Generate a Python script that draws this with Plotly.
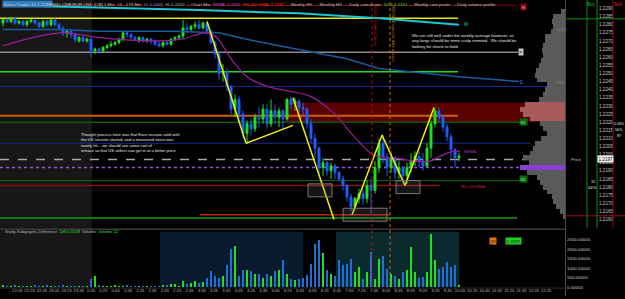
import plotly.graph_objects as go

# ---------------- DATA ----------------
bar_idx = list(range(115))

opens = [1.2281, 1.2283, 1.2282, 1.2284, 1.2281, 1.2282, 1.2280, 1.2282, 1.2283, 1.2281,
         1.2279, 1.2282, 1.2280, 1.2283, 1.2280, 1.2278, 1.2275, 1.2276, 1.2274, 1.2270,
         1.2272, 1.2270, 1.2271, 1.2264, 1.2265, 1.2264, 1.2266, 1.2267, 1.2268, 1.2269,
         1.2271, 1.2275, 1.2274, 1.2272, 1.2270, 1.2272, 1.2270, 1.2271, 1.2270, 1.2268,
         1.2267, 1.2269, 1.2268, 1.2271, 1.2272, 1.2273, 1.2278, 1.2277, 1.2279, 1.2280,
         1.2278, 1.2281, 1.2276, 1.2269, 1.2262, 1.2250, 1.2251, 1.2242, 1.2228, 1.2234,
         1.2225, 1.2213, 1.2219, 1.2216, 1.2223, 1.2222, 1.2228, 1.2219, 1.2227, 1.2223,
         1.2227, 1.2222, 1.2234, 1.2231, 1.2233, 1.2229, 1.2228, 1.2219, 1.2210, 1.2204,
         1.2192, 1.2195, 1.2190, 1.2193, 1.2189, 1.2185, 1.2181, 1.2174, 1.2168, 1.2173,
         1.2176, 1.2173, 1.2181, 1.2178, 1.2192, 1.2207, 1.2198, 1.2192, 1.2198, 1.2189,
         1.2192, 1.2187, 1.2192, 1.2196, 1.2199, 1.2196, 1.2193, 1.2204, 1.2219, 1.2227,
         1.2223, 1.2217, 1.2211, 1.2203, 1.2198]
closes = [1.2283, 1.2282, 1.2284, 1.2281, 1.2282, 1.2280, 1.2282, 1.2283, 1.2281, 1.2279,
          1.2282, 1.2280, 1.2283, 1.2280, 1.2278, 1.2275, 1.2276, 1.2274, 1.2271, 1.2272,
          1.2270, 1.2271, 1.2264, 1.2265, 1.2264, 1.2266, 1.2267, 1.2268, 1.2269, 1.2271,
          1.2275, 1.2274, 1.2272, 1.2271, 1.2272, 1.2270, 1.2271, 1.2270, 1.2268, 1.2267,
          1.2269, 1.2268, 1.2271, 1.2272, 1.2273, 1.2278, 1.2277, 1.2279, 1.2280, 1.2278,
          1.2281, 1.2276, 1.2269, 1.2262, 1.2250, 1.2251, 1.2242, 1.2228, 1.2234, 1.2225,
          1.2213, 1.2219, 1.2216, 1.2223, 1.2222, 1.2228, 1.2219, 1.2227, 1.2223, 1.2227,
          1.2222, 1.2234, 1.2231, 1.2233, 1.2229, 1.2228, 1.2219, 1.2210, 1.2204, 1.2192,
          1.2195, 1.2190, 1.2193, 1.2189, 1.2185, 1.2181, 1.2174, 1.2168, 1.2173, 1.2176,
          1.2173, 1.2181, 1.2178, 1.2192, 1.2207, 1.2198, 1.2192, 1.2198, 1.2189, 1.2192,
          1.2187, 1.2192, 1.2196, 1.2199, 1.2196, 1.2193, 1.2204, 1.2219, 1.2227, 1.2223,
          1.2217, 1.2211, 1.2203, 1.2198, 1.2199]
highs = [1.2284, 1.2284, 1.2285, 1.2285, 1.2283, 1.2283, 1.2283, 1.2284, 1.2284, 1.2282,
         1.2283, 1.2283, 1.2284, 1.2284, 1.2281, 1.2279, 1.2277, 1.2277, 1.2275, 1.2273,
         1.2273, 1.2272, 1.2272, 1.2266, 1.2266, 1.2267, 1.2268, 1.2270, 1.2270, 1.2272,
         1.2276, 1.2276, 1.2275, 1.2273, 1.2273, 1.2273, 1.2272, 1.2272, 1.2271, 1.2270,
         1.2270, 1.2270, 1.2272, 1.2273, 1.2274, 1.2283, 1.2281, 1.2280, 1.2282, 1.2283,
         1.2282, 1.2282, 1.2277, 1.2270, 1.2264, 1.2256, 1.2253, 1.2243, 1.2237, 1.2236,
         1.2227, 1.2221, 1.2222, 1.2225, 1.2229, 1.2231, 1.2231, 1.2234, 1.2231, 1.2229,
         1.2228, 1.2235, 1.2236, 1.2235, 1.2234, 1.2232, 1.2229, 1.2222, 1.2213, 1.2205,
         1.2198, 1.2196, 1.2195, 1.2194, 1.2190, 1.2187, 1.2182, 1.2176, 1.2174, 1.2179,
         1.2179, 1.2184, 1.2185, 1.2196, 1.2210, 1.2212, 1.2201, 1.2202, 1.2199, 1.2196,
         1.2193, 1.2195, 1.2201, 1.2202, 1.2202, 1.2201, 1.2207, 1.2221, 1.2229, 1.2229,
         1.2225, 1.2219, 1.2213, 1.2204, 1.2201]
lows = [1.2279, 1.2281, 1.2281, 1.2280, 1.2280, 1.2279, 1.2279, 1.2281, 1.2280, 1.2278,
        1.2278, 1.2279, 1.2279, 1.2279, 1.2277, 1.2273, 1.2272, 1.2272, 1.2269, 1.2269,
        1.2269, 1.2269, 1.2260, 1.2262, 1.2262, 1.2263, 1.2265, 1.2266, 1.2267, 1.2268,
        1.2270, 1.2272, 1.2271, 1.2270, 1.2269, 1.2269, 1.2269, 1.2268, 1.2267, 1.2266,
        1.2266, 1.2267, 1.2267, 1.2270, 1.2271, 1.2271, 1.2275, 1.2276, 1.2277, 1.2277,
        1.2277, 1.2274, 1.2268, 1.2259, 1.2246, 1.2245, 1.2239, 1.2225, 1.2223, 1.2220,
        1.2210, 1.2207, 1.2212, 1.2214, 1.2217, 1.2219, 1.2216, 1.2217, 1.2219, 1.2217,
        1.2216, 1.2221, 1.2228, 1.2227, 1.2226, 1.2224, 1.2216, 1.2207, 1.2198, 1.2187,
        1.2187, 1.2187, 1.2185, 1.2185, 1.2184, 1.2178, 1.2171, 1.2165, 1.2166, 1.2170,
        1.2169, 1.2170, 1.2164, 1.2176, 1.2189, 1.2195, 1.2187, 1.2189, 1.2185, 1.2185,
        1.2184, 1.2182, 1.2189, 1.2193, 1.2192, 1.2190, 1.2192, 1.2198, 1.2217, 1.2220,
        1.2214, 1.2208, 1.2198, 1.2192, 1.2196]
volumes = [120, 80, 60, 150, 70, 100, 60, 90, 130, 60, 80, 110, 70, 60, 90, 120, 60, 80, 100, 60,
           70, 90, 470, 620, 150, 100, 80, 60, 120, 90, 70, 110, 80, 60, 100, 70, 90, 60, 80, 100,
           120, 150, 200, 160, 100, 320, 200, 260, 360, 250, 300, 500, 880, 620, 520, 600, 1200,
           2030, 2180, 620, 900, 940, 880, 700, 730, 520, 730, 600, 880, 940, 1460, 700, 420, 400,
           450, 520, 680, 1250, 2290, 2500, 1820, 940, 700, 620, 1460, 1200, 1250, 1500, 830, 1090,
           470, 830, 1870, 470, 1500, 1660, 990, 730, 620, 470, 830, 940, 2130, 830, 520, 570, 830,
           2800, 1460, 990, 1090, 1350, 1090, 1200, 150]

# moving averages / trend lines (bar index, price)
cyan_idx = [0, 49, 74, 94, 114]
cyan_px = [1.2292, 1.2289, 1.2287, 1.2284, 1.2280]
vwap_idx = [0, 14, 24, 42, 54, 61, 69, 77.5, 86, 94, 114, 129]
vwap_px = [1.2277, 1.2277, 1.2276, 1.2276, 1.2275, 1.2271, 1.2267, 1.2263, 1.2259, 1.2253, 1.2248, 1.2245]
ema_idx = [0, 14.25, 24.25, 36.75, 44.25, 51, 53.5, 56.75, 61, 66, 71.75, 76.75, 82.5, 87.5,
           92.5, 97.5, 103.5, 106.75, 109.25, 112.5, 114.25]
ema_px = [1.2267, 1.2275, 1.2272, 1.2270, 1.2271, 1.2275, 1.2272, 1.2260, 1.2248, 1.2242, 1.2239,
          1.2236, 1.2226, 1.2212, 1.2200, 1.2198, 1.2196, 1.2196, 1.2199, 1.2202, 1.2202]

# hand-drawn yellow zig-zags
zig_idx = [51, 60.75, None, 60.75, 72.5, None, 72.5, 82.75, None, 87.25, 94.75, 100.5, 107.75]
zig_px = [1.2282, 1.2207, None, 1.2207, 1.2218, None, 1.2235, 1.2160, None, 1.2163, 1.2212, 1.2181, 1.2229]

# horizontal levels
level_px = [1.2292, 1.2284, 1.2263, 1.2251, 1.2242, 1.2224, 1.2220, 1.2207, 1.2197, 1.2192,
            1.2184, 1.2181, 1.2163, 1.2161]
band_px = [1.2232, 1.2220]
boxes_idx = [(76.25, 82.25), (85.0, 96.0), (98.25, 104.25)]
boxes_px = [(1.2182, 1.2174), (1.2167, 1.2159), (1.2184, 1.2176)]

# volume profile
profile_px = [1.2288, 1.2285, 1.2282, 1.2279, 1.2276, 1.2273, 1.2270, 1.2267, 1.2264, 1.2261,
              1.2258, 1.2255, 1.2252, 1.2249, 1.2246, 1.2243, 1.2240, 1.2237, 1.2234, 1.2231,
              1.2228, 1.2225, 1.2222, 1.2219, 1.2216, 1.2213, 1.2210, 1.2207, 1.2204, 1.2201,
              1.2198, 1.2195, 1.2192, 1.2189, 1.2186, 1.2183, 1.2180, 1.2177, 1.2174, 1.2171,
              1.2168, 1.2165, 1.2162]
profile_vol = [4, 12, 13, 12, 14, 20, 20, 22, 23, 22, 24, 26, 29, 30, 28, 18, 20, 22, 26, 40,
               45, 42, 35, 25, 22, 18, 24, 30, 32, 35, 42, 36, 45, 38, 28, 25, 22, 18, 13, 12,
               9, 5, 2]

price_ticks = [1.2290, 1.2285, 1.2280, 1.2275, 1.2270, 1.2265, 1.2260, 1.2255, 1.2250, 1.2245,
               1.2240, 1.2235, 1.2230, 1.2225, 1.2220, 1.2215, 1.2210, 1.2205, 1.2200, 1.2195,
               1.2190, 1.2185, 1.2180, 1.2175, 1.2170, 1.2165, 1.2160]
vol_ticks = [0, 500, 1000, 1500, 2000, 2500]
time_labels = ["21:45", "22:05", "22:25", "22:45", "23:05", "23:25", "23:45", "0:05", "0:25", "0:45",
               "1:05", "1:25", "1:45", "2:05", "2:25", "2:45", "3:05", "3:25", "3:45", "4:05",
               "4:25", "4:45", "5:05", "5:25", "5:45", "6:05", "6:25", "6:45", "7:05", "7:25",
               "7:45", "8:05", "8:25", "8:45", "9:05", "9:25", "9:45", "10:05", "10:25", "10:45",
               "11:05", "11:25", "11:45", "12:05", "12:25"]

# ---------------- FIGURE ----------------
W, H = 625, 299
FONT = "Liberation Sans"


def px(x):
    return x / W


def py(y):
    return 1.0 - y / H


def bi(x):  # pixel -> bar index (layout helper)
    return (x - 3) / 4.0


GREEN = "#1ee01e"
BLUE = "#1e5cff"

fig = go.Figure()

# MAs under candles
fig.add_trace(go.Scatter(x=cyan_idx, y=cyan_px, mode="lines", line=dict(color="#19c8d2", width=2),
                         xaxis="x", yaxis="y", hoverinfo="skip"))
fig.add_trace(go.Scatter(x=vwap_idx, y=vwap_px, mode="lines", line=dict(color="#1c5aa0", width=1.5),
                         xaxis="x", yaxis="y", hoverinfo="skip"))
fig.add_trace(go.Scatter(x=ema_idx, y=ema_px, mode="lines", line=dict(color="#9a1c9a", width=1.2, shape="spline"),
                         xaxis="x", yaxis="y", hoverinfo="skip"))

# volume profile
prof_colors = []
for p in profile_px:
    if abs(p - 1.2192) < 1e-6:
        prof_colors.append("#8a3fd0")
    elif band_px[1] <= p <= band_px[0]:
        prof_colors.append("#a85a5a")
    else:
        prof_colors.append("#5a5a5a")
fig.add_trace(go.Bar(y=profile_px, x=profile_vol, orientation="h", width=0.0003,
                     marker=dict(color=prof_colors, line=dict(width=0)), xaxis="x3", yaxis="y",
                     hoverinfo="skip"))

# candles
fig.add_trace(go.Candlestick(x=bar_idx, open=opens, high=highs, low=lows, close=closes,
                             increasing=dict(line=dict(color=GREEN, width=1), fillcolor=GREEN),
                             decreasing=dict(line=dict(color=BLUE, width=1), fillcolor=BLUE),
                             whiskerwidth=0, xaxis="x", yaxis="y", hoverinfo="skip"))

# yellow drawings
fig.add_trace(go.Scatter(x=zig_idx, y=zig_px, mode="lines", line=dict(color="#f2f200", width=1.5),
                         xaxis="x", yaxis="y", hoverinfo="skip", connectgaps=False))

# volume bars
vcol = [GREEN if c >= o else "#1f6fd8" for o, c in zip(opens, closes)]
fig.add_trace(go.Bar(x=bar_idx, y=volumes, width=0.5, marker=dict(color=vcol, line=dict(width=0)),
                     xaxis="x", yaxis="y2", hoverinfo="skip"))

shapes = []
# background regions
shapes.append(dict(type="rect", xref="x", yref="paper", x0=bi(0), x1=bi(92), y0=py(291), y1=1,
                   fillcolor="#171717", line=dict(width=0), layer="below"))
shapes.append(dict(type="rect", xref="x", yref="paper", x0=bi(160), x1=bi(303), y0=py(290), y1=py(234),
                   fillcolor="#081a2c", line=dict(width=0), layer="below"))
shapes.append(dict(type="rect", xref="x", yref="paper", x0=bi(336), x1=bi(459), y0=py(290), y1=py(234),
                   fillcolor="#0a2a2e", line=dict(width=0), layer="below"))
# red band
shapes.append(dict(type="rect", xref="x", yref="y", x0=bi(285), x1=bi(565), y0=band_px[1], y1=band_px[0],
                   fillcolor="rgba(105,0,0,0.85)", line=dict(width=0), layer="below"))

level_style = [
    (0, 518, "#7a0000", 1, "solid"),
    (0, 458, "#e8e800", 1.5, "solid"),
    (0, 518, "#8c8c8c", 1.5, "solid"),
    (0, 458, "#22dd22", 1.5, "solid"),
    (0, 565, "#1a2a9a", 1, "solid"),
    (0, 458, "#c8600a", 2, "solid"),
    (0, 520, "#0a5a0a", 1.5, "solid"),
    (0, 530, "#1a2a8a", 1, "solid"),
    (0, 565, "#a8a8a8", 1.5, "dash"),
    (0, 565, "#9a50e0", 1.5, "dot"),
    (0, 520, "#0a6a0a", 1, "solid"),
    (0, 440, "#8a1010", 1.5, "solid"),
    (200, 390, "#c81818", 1.5, "solid"),
    (0, 517, "#10a010", 1.5, "solid"),
]
for p, (a, b, col, w, d) in zip(level_px, level_style):
    shapes.append(dict(type="line", xref="x", yref="y", x0=bi(a), x1=bi(b), y0=p, y1=p,
                       line=dict(color=col, width=w, dash=d), layer="below"))

# boxes
for (x0, x1), (y0, y1) in zip(boxes_idx, boxes_px):
    shapes.append(dict(type="rect", xref="x", yref="y", x0=x0, x1=x1, y0=y1, y1=y0,
                       line=dict(color="#7a7a7a", width=1), fillcolor="rgba(120,120,120,0.18)"))

# session vertical lines
shapes.append(dict(type="line", xref="x", yref="paper", x0=bi(372), x1=bi(372), y0=py(290), y1=1,
                   line=dict(color="#c01010", width=1, dash="dot")))
shapes.append(dict(type="line", xref="x", yref="paper", x0=bi(390), x1=bi(390), y0=py(290), y1=1,
                   line=dict(color="#d07010", width=1, dash="dot")))

# panel separators
shapes.append(dict(type="line", xref="paper", yref="paper", x0=0, x1=px(565), y0=py(231.5), y1=py(231.5),
                   line=dict(color="#3a3a3a", width=1.5)))
shapes.append(dict(type="line", xref="paper", yref="paper", x0=px(565.5), x1=px(565.5), y0=0, y1=1,
                   line=dict(color="#4a4a4a", width=1)))
shapes.append(dict(type="line", xref="paper", yref="paper", x0=0, x1=px(565), y0=py(291), y1=py(291),
                   line=dict(color="#2a2a2a", width=1)))
# DOM panel lines
for xx, col in [(587, "#0a8a0a"), (597, "#0a8a0a"), (613, "#8a0a0a")]:
    shapes.append(dict(type="line", xref="paper", yref="paper", x0=px(xx), x1=px(xx), y0=py(230), y1=1,
                       line=dict(color=col, width=1)))
shapes.append(dict(type="line", xref="paper", yref="paper", x0=px(566), x1=1, y0=py(19), y1=py(19),
                   line=dict(color="#0a8a0a", width=1)))
shapes.append(dict(type="line", xref="paper", yref="paper", x0=px(566), x1=1, y0=py(218), y1=py(218),
                   line=dict(color="#a01010", width=1)))

fig.update_layout(shapes=shapes)

ann = []


def T(x, y, text, size=4.4, color="#c8c8c8", xanchor="left", yanchor="middle", **kw):
    ann.append(dict(x=px(x), y=py(y), xref="paper", yref="paper", text=text, showarrow=False,
                    xanchor=xanchor, yanchor=yanchor, font=dict(family=FONT, size=size, color=color), **kw))


# header
T(2, 4.5, "Sierra Trades 10 1.1234", color="#d0d0d0", bgcolor="#2f7fc0", borderpad=0.5)
header = ("6EM1-CME/EUR-USD [CB] 1 Min  #4 - 173 Min  "
          "<span style='color:#4aa8ff'>O: 1.2201</span>  "
          "<span style='color:#3cc8c8'>H: 1.2202</span>  -- Chart Min  "
          "<span style='color:#d040d0'>8EMA: 1.2201</span>  "
          "<span style='color:#ff3030'>H4-200 EMA: 1.2187</span>  -- Weekly H/L  -- Monthly H/L  "
          "-- Daily cam pivots  <span style='color:#20e020'>S1.5 1.2161</span>  -- Weekly cam pivots  "
          "-- Daily volume profile")
T(47, 4.5, header)

# commentary
T(79, 143.5, "Thought process here was that Euro session sold until<br>the US session started, and a measured move was"
             "<br>nearly hit... we should see some sort of<br>retrace so that US sellers can get in at a better price.",
  size=4.1, color="#e8e8e8", align="left")
T(410, 41.5, "We are still well under the weekly average however, so<br>any longs should be more scalp oriented.  We should be"
             "<br>looking for shorts to hold.", size=4.2, color="#e8e8e8", align="left")

# level labels
T(520, 7, "M", size=4.4, color="#ffb0b0", bgcolor="#8b0000", borderpad=0.5)
T(462, 25, "W", size=4.6, color="#19c8d2")
T(518, 53, "P", size=4.2, color="#000000", bgcolor="#c8c8c8", borderpad=0.5)
T(518, 83, "E", size=4.6, color="#3a7ad0")
T(519, 123, "S1", size=4.0, color="#b0ffb0", bgcolor="#0a6a0a", borderpad=0.5)
T(519, 181, "S2", size=4.0, color="#b0ffb0", bgcolor="#0a6a0a", borderpad=0.5)
T(462, 153, "8EMA", size=4.4, color="#b030b0")
T(459, 188, "H4-200 EMA", size=4.2, color="#d02020")
T(555, 30, "hv 22", size=3.8, color="#909090")
T(555, 84, "VS 1", size=3.8, color="#60a060")
T(375.5, 2, "0800 LO London Open", size=4.0, color="#d01818", yanchor="top", xanchor="center", textangle=90)
T(393.5, 2, "0830 NY Economic data release", size=4.0, color="#d07818", yanchor="top", xanchor="center", textangle=90)

# DOM panel text
T(591, 5, "Buy", size=4.6, color="#20c020", xanchor="center")
T(618, 5, "Sell", size=4.6, color="#e02020", xanchor="center")
T(569, 161, "Price", size=4.4, color="#d0d0d0")
T(593, 183, "11", size=4.2, color="#e0e0e0", xanchor="center")
T(592, 189, "44%", size=4.2, color="#e0e0e0", xanchor="center")
T(619, 125, "0.000", size=3.8, color="#e0e0e0", xanchor="center")
T(619, 131, "56%", size=3.8, color="#e0e0e0", xanchor="center")
T(619, 137, "87", size=3.8, color="#e0e0e0", xanchor="center")
T(605, 160.5, "1.2197", size=4.6, color="#000000", bgcolor="#f0f0f0", borderpad=0.5, xanchor="center")

# volume panel text
T(3, 233.5, "Study Subgraphs Difference  <span style='color:#20e020'>Diff 0.0218</span>  Volume  "
            "<span style='color:#20e020'>Volume 22</span>", size=4.2, color="#b8b8b8")
T(493, 243, "22", size=4.4, color="#000000", bgcolor="#e07a10", borderpad=0.5, xanchor="center")
T(513, 243, "1.2197", size=4.4, color="#000000", bgcolor="#20d020", borderpad=0.5, xanchor="center")

fig.update_layout(annotations=ann)

tick_pos = [0.5 + 3.075 * k for k in range(len(time_labels))]

fig.update_layout(
    width=W, height=H, margin=dict(l=0, r=0, t=0, b=0),
    paper_bgcolor="#000000", plot_bgcolor="rgba(0,0,0,0)", showlegend=False,
    bargap=0,
    xaxis=dict(domain=[0, px(565)], range=[-0.75, 140.5], anchor="y2", showgrid=False, zeroline=False,
               showline=False, rangeslider=dict(visible=False), tickmode="array", tickvals=tick_pos,
               ticktext=time_labels, tickangle=0, ticks="",
               tickfont=dict(family=FONT, size=4.2, color="#b8b8b8")),
    yaxis=dict(domain=[py(230), py(3)], range=[1.2155, 1.22934], side="right", anchor="free",
               position=px(598), showgrid=False, zeroline=False, showline=False, ticks="",
               tickmode="array", tickvals=price_ticks, tickformat=".4f",
               tickfont=dict(family=FONT, size=4.6, color="#c8c8c8")),
    yaxis2=dict(domain=[py(290), py(235)], range=[0, 2865], side="right", anchor="free",
                position=px(566), showgrid=False, zeroline=False, showline=False, ticks="",
                tickmode="array", tickvals=vol_ticks, tickformat=".5f",
                tickfont=dict(family=FONT, size=4.4, color="#c8c8c8")),
    xaxis3=dict(domain=[px(480), px(565)], range=[85, 0], anchor="y", visible=False),
)

fig.write_html("out.html")
